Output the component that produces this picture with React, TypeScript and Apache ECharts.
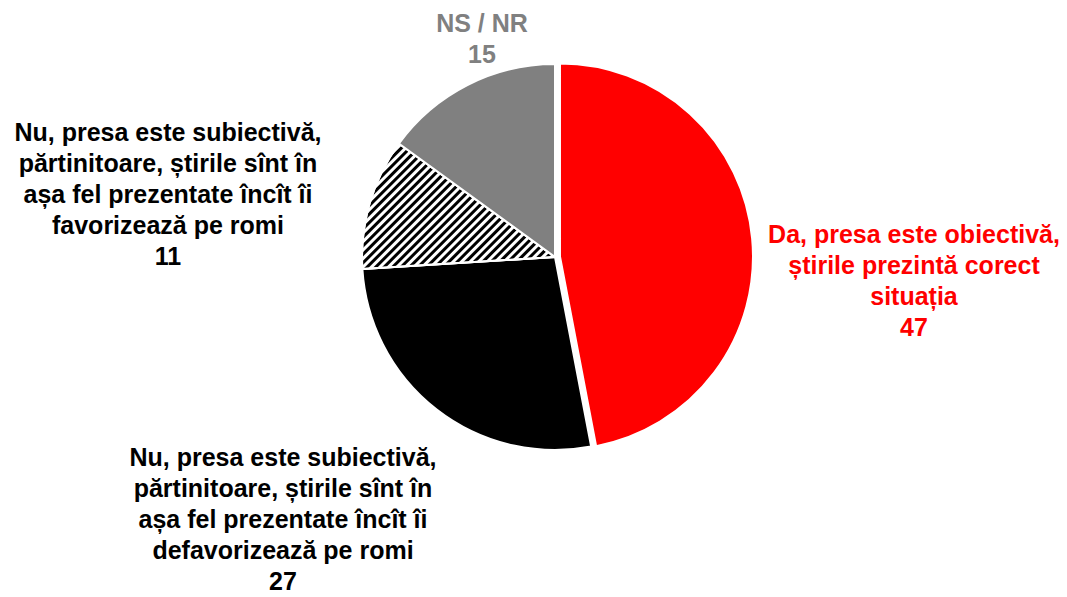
import React, { useEffect, useRef } from "react";
import * as echarts from "echarts";

const categories: string[] = [
  "Da, presa este obiectivă,\nștirile prezintă corect\nsituația",
  "Nu, presa este subiectivă,\npărtinitoare, știrile sînt în\nașa fel prezentate încît îi\ndefavorizează pe romi",
  "Nu, presa este subiectivă,\npărtinitoare, știrile sînt în\nașa fel prezentate încît îi\nfavorizează pe romi",
  "NS / NR",
];
const values: number[] = [47, 27, 11, 15];
const sliceColors: string[] = ["#ff0000", "#000000", "#000000", "#808080"];
const labelColors: string[] = ["#ff0000", "#000000", "#000000", "#808080"];
const explodedIndex = 0;
const labelPos: [number, number][] = [
  [914, 280],
  [283, 519],
  [168, 194],
  [482, 38],
];

export default function App() {
  const ref = useRef<HTMLDivElement>(null);
  useEffect(() => {
    if (!ref.current) return;
    const chart = echarts.init(ref.current, undefined, { renderer: "svg" });
    const total = values.reduce((a, b) => a + b, 0);
    let before = 0;
    for (let i = 0; i < explodedIndex; i++) before += values[i];
    const mid = ((before + values[explodedIndex] / 2) / total) * Math.PI * 2;
    const off = 5;
    const cx = 555;
    const cy = 257;
    const ex = cx + off * Math.sin(mid);
    const ey = cy - off * Math.cos(mid);

    const mainData = values.map((v, i) => {
      const hidden = i === explodedIndex;
      const item: any = {
        value: v,
        name: categories[i],
        itemStyle: hidden
          ? { color: "rgba(0,0,0,0)", borderWidth: 0 }
          : { color: sliceColors[i] },
        label: { color: labelColors[i] },
      };
      if (i === 2) {
        item.itemStyle.decal = {
          symbol: "rect",
          symbolSize: 1,
          dashArrayX: [1, 0],
          dashArrayY: [3, 3],
          rotation: -Math.PI / 4,
          color: "#ffffff",
        };
      }
      return item;
    });
    const explodedData = values.map((v, i) => ({
      value: v,
      name: categories[i],
      itemStyle:
        i === explodedIndex
          ? { color: sliceColors[i] }
          : { color: "rgba(0,0,0,0)", borderWidth: 0 },
    }));

    const common = {
      type: "pie",
      radius: 193,
      startAngle: 90,
      clockwise: true,
      silent: true,
      emphasis: { disabled: true },
      itemStyle: { borderColor: "#ffffff", borderWidth: 2 },
      labelLine: { show: false },
    };

    chart.setOption({
      animation: false,
      backgroundColor: "#ffffff",
      series: [
        {
          ...common,
          center: [cx, cy],
          label: {
            show: true,
            position: "inside",
            overflow: "none",
            formatter: "{b}\n{c}",
            fontFamily: "Liberation Sans, Arial, sans-serif",
            fontWeight: "bold",
            fontSize: 25,
            lineHeight: 31,
            align: "center",
          },
          labelLayout: (params: any) => {
            const p = labelPos[params.dataIndex];
            return { x: p[0], y: p[1], align: "center", verticalAlign: "middle" };
          },
          data: mainData,
        },
        {
          ...common,
          center: [ex, ey],
          label: { show: false },
          data: explodedData,
        },
      ],
    });
    return () => chart.dispose();
  }, []);
  return (
    <div
      ref={ref}
      style={{ position: "fixed", left: 0, top: 0, width: 1067, height: 597 }}
    />
  );
}
